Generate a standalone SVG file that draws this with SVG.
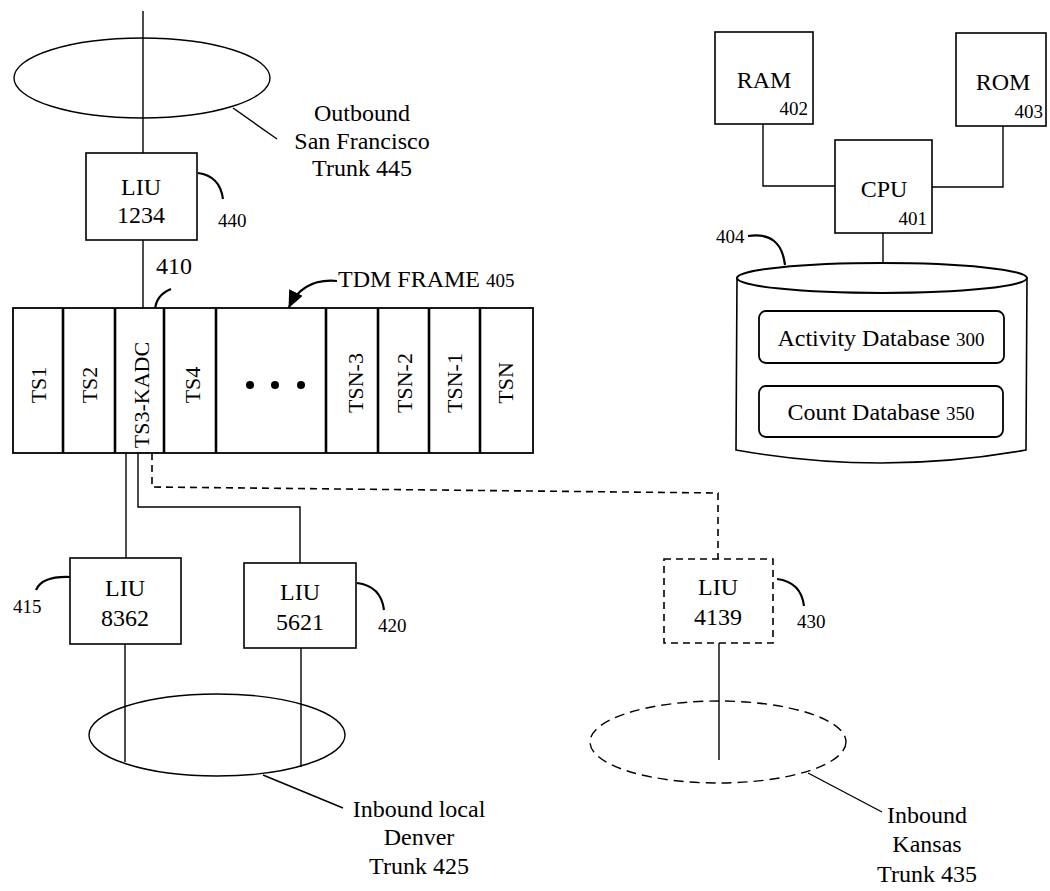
<svg xmlns="http://www.w3.org/2000/svg" width="1050" height="891" viewBox="0 0 1050 891">
<style>
text{font-family:"Liberation Serif","Times New Roman",serif;fill:#000}
.t{font-size:24px}
.s{font-size:22px}
.n{font-size:19px}
.box{fill:#fff;stroke:#000;stroke-width:1.6}
.ln{fill:none;stroke:#000;stroke-width:1.4}
.dash{fill:none;stroke:#000;stroke-width:1.6;stroke-dasharray:7,5}
.lead{fill:none;stroke:#000;stroke-width:2.2}
.div{stroke:#000;stroke-width:2.6}
</style>
<defs>
<marker id="ah" markerWidth="17" markerHeight="15" refX="16" refY="7.5" orient="auto" markerUnits="userSpaceOnUse">
<path d="M0,0 L17,7.5 L0,15 Z" fill="#000"/>
</marker>
</defs>
<g id="connectors">
<line class="ln" x1="143" y1="11" x2="143" y2="153"/>
<line class="ln" x1="143" y1="240" x2="143" y2="308"/>
<line class="ln" x1="126" y1="453" x2="126" y2="558"/>
<polyline class="ln" points="138,453 138,507 300,507 300,563"/>
<polyline class="dash" points="152,453 152,487 718,493 718,559"/>
<line class="ln" x1="125" y1="644" x2="125" y2="762"/>
<line class="ln" x1="301" y1="648" x2="301" y2="767"/>
<line class="ln" x1="719" y1="643" x2="719" y2="760"/>
<polyline class="ln" points="763,124 763,186 835,186"/>
<polyline class="ln" points="1003,126 1003,187 932,187"/>
<line class="ln" x1="883" y1="233" x2="883" y2="263"/>
</g>
<g id="trunk445">
<ellipse cx="142" cy="78" rx="128" ry="40" fill="none" stroke="#000" stroke-width="1.4"/>
<line class="ln" x1="233" y1="108" x2="277" y2="139"/>
<text class="t" x="362" y="121" text-anchor="middle">Outbound</text>
<text class="t" x="362" y="149" text-anchor="middle">San Francisco</text>
<text class="t" x="362" y="176" text-anchor="middle">Trunk 445</text>
</g>
<g id="liu1234">
<rect class="box" x="86" y="153" width="111" height="87"/>
<text class="t" x="141" y="195" text-anchor="middle">LIU</text>
<text class="t" x="141" y="223" text-anchor="middle">1234</text>
<path class="lead" d="M198,173 Q220,176 223,199"/>
<text class="n" x="218" y="227">440</text>
</g>
<g id="label410">
<text class="t" x="156" y="274">410</text>
<path class="lead" d="M171,289 Q156,295 155,310"/>
</g>
<g id="tdmframe">
<rect x="13" y="308" width="520" height="145" fill="#fff" stroke="#000" stroke-width="1.8"/>
<line class="div" x1="63" y1="308" x2="63" y2="453"/>
<line class="div" x1="115" y1="308" x2="115" y2="453"/>
<line class="div" x1="164" y1="308" x2="164" y2="453"/>
<line class="div" x1="216" y1="308" x2="216" y2="453"/>
<line class="div" x1="326" y1="308" x2="326" y2="453"/>
<line class="div" x1="378" y1="308" x2="378" y2="453"/>
<line class="div" x1="429" y1="308" x2="429" y2="453"/>
<line class="div" x1="480" y1="308" x2="480" y2="453"/>
<text class="s" text-anchor="middle" transform="translate(46,385) rotate(-90)">TS1</text>
<text class="s" text-anchor="middle" transform="translate(97,385) rotate(-90)">TS2</text>
<text class="s" text-anchor="middle" transform="translate(149,395) rotate(-90)">TS3-KADC</text>
<text class="s" text-anchor="middle" transform="translate(200,385) rotate(-90)">TS4</text>
<circle cx="250" cy="385" r="4"/>
<circle cx="275" cy="385" r="4"/>
<circle cx="301" cy="385" r="4"/>
<text class="s" text-anchor="middle" transform="translate(363,383) rotate(-90)">TSN-3</text>
<text class="s" text-anchor="middle" transform="translate(412,383) rotate(-90)">TSN-2</text>
<text class="s" text-anchor="middle" transform="translate(462,383) rotate(-90)">TSN-1</text>
<text class="s" text-anchor="middle" transform="translate(513,383) rotate(-90)">TSN</text>
<path class="lead" d="M337,281 Q303,278 289,307" marker-end="url(#ah)" stroke-width="2.6"/>
<text x="338" y="287"><tspan class="t">TDM FRAME </tspan><tspan class="n">405</tspan></text>
</g>
<g id="liu8362">
<rect class="box" x="70" y="558" width="111" height="86"/>
<text class="t" x="125" y="596" text-anchor="middle">LIU</text>
<text class="t" x="125" y="626" text-anchor="middle">8362</text>
<path class="lead" d="M70,577 Q42,576 36,590"/>
<text class="n" x="13" y="613">415</text>
</g>
<g id="liu5621">
<rect class="box" x="244" y="563" width="112" height="85"/>
<text class="t" x="300" y="600" text-anchor="middle">LIU</text>
<text class="t" x="300" y="630" text-anchor="middle">5621</text>
<path class="lead" d="M357,583 Q381,586 384,610"/>
<text class="n" x="378" y="632">420</text>
</g>
<g id="trunk425">
<ellipse cx="217" cy="735" rx="128" ry="41" fill="none" stroke="#000" stroke-width="1.4"/>
<line class="ln" x1="263" y1="775" x2="343" y2="808"/>
<text class="t" x="419" y="817" text-anchor="middle">Inbound local</text>
<text class="t" x="419" y="845" text-anchor="middle">Denver</text>
<text class="t" x="419" y="874" text-anchor="middle">Trunk 425</text>
</g>
<g id="liu4139">
<rect x="664" y="559" width="109" height="84" fill="#fff" stroke="#000" stroke-width="1.6" stroke-dasharray="7,5"/>
<text class="t" x="718" y="595" text-anchor="middle">LIU</text>
<text class="t" x="718" y="625" text-anchor="middle">4139</text>
<path class="lead" d="M777,579 Q801,582 804,606"/>
<text class="n" x="797" y="628">430</text>
</g>
<g id="trunk435">
<ellipse cx="718" cy="742" rx="128" ry="41" fill="none" stroke="#000" stroke-width="1.4" stroke-dasharray="10,6"/>
<line class="ln" x1="808" y1="773" x2="882" y2="812"/>
<text class="t" x="927" y="823" text-anchor="middle">Inbound</text>
<text class="t" x="927" y="852" text-anchor="middle">Kansas</text>
<text class="t" x="927" y="882" text-anchor="middle">Trunk 435</text>
</g>
<g id="ram">
<rect class="box" x="715" y="32" width="98" height="92"/>
<text class="t" x="764" y="88" text-anchor="middle">RAM</text>
<text class="n" x="808" y="115" text-anchor="end">402</text>
</g>
<g id="rom">
<rect class="box" x="956" y="33" width="90" height="93"/>
<text class="t" x="1003" y="90" text-anchor="middle">ROM</text>
<text class="n" x="1043" y="118" text-anchor="end">403</text>
</g>
<g id="cpu">
<rect class="box" x="835" y="140" width="97" height="93"/>
<text class="t" x="884" y="197" text-anchor="middle">CPU</text>
<text class="n" x="927" y="225" text-anchor="end">401</text>
</g>
<g id="storage404">
<path d="M737,278 L736,450 Q881,476 1026,450 L1027,278" fill="#fff" stroke="#000" stroke-width="1.6"/>
<ellipse cx="882" cy="278" rx="145" ry="15" fill="#fff" stroke="#000" stroke-width="2"/>
<path class="lead" d="M748,236 Q781,231 785,265"/>
<text class="n" x="716" y="243">404</text>
<rect x="759" y="311" width="245" height="52" rx="7" fill="#fff" stroke="#000" stroke-width="1.8"/>
<text x="881" y="346" text-anchor="middle"><tspan class="t">Activity Database </tspan><tspan class="n">300</tspan></text>
<rect x="759" y="386" width="244" height="51" rx="7" fill="#fff" stroke="#000" stroke-width="1.8"/>
<text x="881" y="420" text-anchor="middle"><tspan class="t">Count Database </tspan><tspan class="n">350</tspan></text>
</g>
</svg>
